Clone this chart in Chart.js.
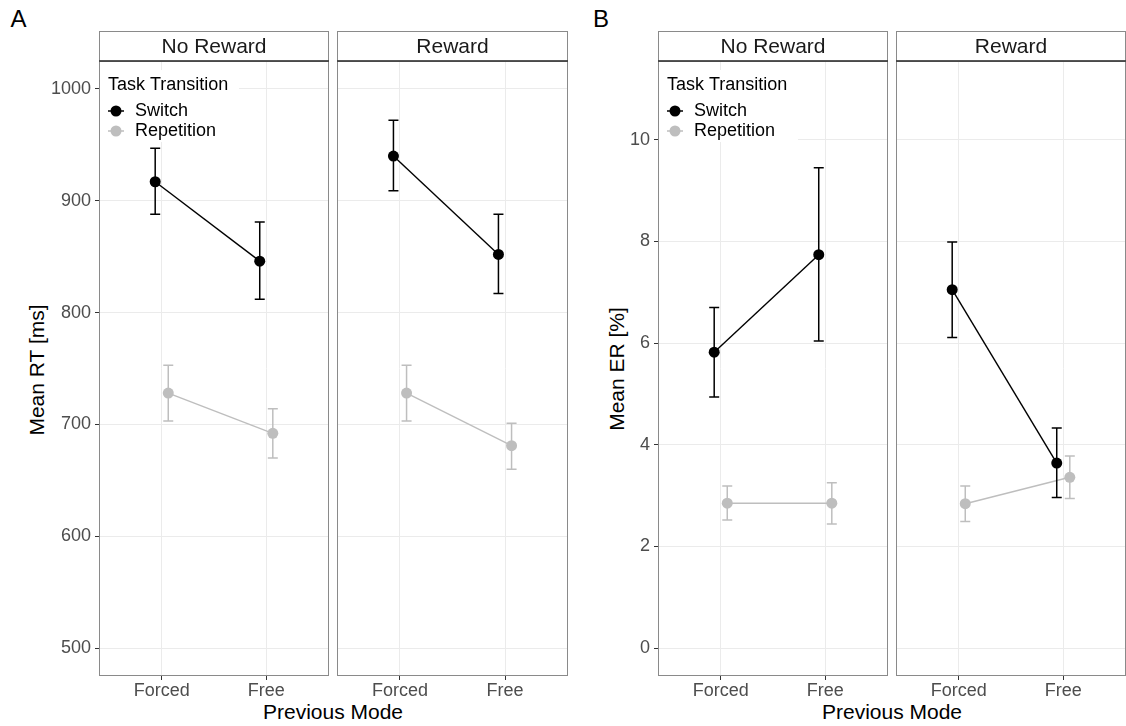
<!DOCTYPE html>
<html>
<head>
<meta charset="utf-8">
<script src="https://cdn.jsdelivr.net/npm/chart.js@4.4.1/dist/chart.umd.min.js"></script>
<style>
    html, body { margin: 0; padding: 0; background: #fff; }
    #page {
        position: relative;
        width: 1126px;
        height: 726px;
        overflow: hidden;
        font-family: "Liberation Sans", Arial, sans-serif;
    }
    #page canvas { position: absolute; }
    .lbl {
        position: absolute;
        white-space: nowrap;
        line-height: 1;
        color: #000;
        transform: translate(-50%, -50%);
    }
    .ytitle { transform: translate(-50%, -50%) rotate(-90deg); }
</style>
</head>
<body>
<div id="page">
    <div class="lbl" style="left:18.5px; top:18.5px; font-size:24px;">A</div>
    <div class="lbl" style="left:601px; top:18.5px; font-size:24px;">B</div>
    <div class="lbl ytitle" style="left:36px; top:370px; font-size:21px;">Mean RT [ms]</div>
    <div class="lbl ytitle" style="left:616px; top:369px; font-size:21px;">Mean ER [%]</div>
    <div class="lbl" style="left:333px; top:711px; font-size:21px;">Previous Mode</div>
    <div class="lbl" style="left:892px; top:711px; font-size:21px;">Previous Mode</div>

    <canvas id="rtNoReward"></canvas>
    <canvas id="rtReward"></canvas>
    <canvas id="erNoReward"></canvas>
    <canvas id="erReward"></canvas>
</div>

<script>
// ---- data ----
const modes = ['Forced', 'Free'];
const transitions = ['Switch', 'Repetition'];
const facets = ['No Reward', 'Reward'];

const rtTicks = [500, 600, 700, 800, 900, 1000];
const erTicks = [0, 2, 4, 6, 8, 10];

// Mean RT [ms], [lower, upper] error bars per mode
const rtSwitchNoReward = [917, 846];
const rtSwitchNoRewardCI = [[888, 947], [812, 881]];
const rtRepNoReward = [728, 692];
const rtRepNoRewardCI = [[703, 753], [670, 714]];
const rtSwitchReward = [940, 852];
const rtSwitchRewardCI = [[909, 972], [817, 888]];
const rtRepReward = [728, 681];
const rtRepRewardCI = [[703, 753], [660, 701]];

// Mean ER [%]
const erSwitchNoReward = [5.82, 7.74];
const erSwitchNoRewardCI = [[4.94, 6.70], [6.04, 9.45]];
const erRepNoReward = [2.85, 2.85];
const erRepNoRewardCI = [[2.52, 3.19], [2.44, 3.25]];
const erSwitchReward = [7.05, 3.64];
const erSwitchRewardCI = [[6.11, 7.99], [2.96, 4.33]];
const erRepReward = [2.84, 3.36];
const erRepRewardCI = [[2.49, 3.19], [2.94, 3.78]];

// ---- look ----
const FONT = '"Liberation Sans", Arial, sans-serif';
const colors = { Switch: '#000000', Repetition: '#bebebe' };
const dodge = { Switch: -0.0625, Repetition: 0.0625 };
const CANVAS_TOP = 31;
const CANVAS_H = 672;
const STRIP_H = 30;
const X_AXIS_H = 27;

Chart.defaults.font.family = FONT;
Chart.defaults.animation = false;

// Error bars drawn through the chart's own scales
const errorBars = {
    id: 'errorBars',
    afterDatasetsDraw(chart) {
        const ctx = chart.ctx;
        const xs = chart.scales.x;
        const ys = chart.scales.y;
        chart.data.datasets.forEach(ds => {
            ctx.save();
            ctx.strokeStyle = ds.borderColor;
            ctx.lineWidth = 1.5;
            ds.data.forEach((p, i) => {
                const x = xs.getPixelForValue(p.x);
                const y0 = ys.getPixelForValue(ds.ci[i][0]);
                const y1 = ys.getPixelForValue(ds.ci[i][1]);
                ctx.beginPath();
                ctx.moveTo(x, y0); ctx.lineTo(x, y1);
                ctx.moveTo(x - 5, y0); ctx.lineTo(x + 5, y0);
                ctx.moveTo(x - 5, y1); ctx.lineTo(x + 5, y1);
                ctx.stroke();
            });
            ctx.restore();
        });
    }
};

// Facet strip, panel border and (optionally) the legend
const panelDecor = {
    id: 'panelDecor',
    afterDraw(chart, args, opts) {
        const ctx = chart.ctx;
        const a = chart.chartArea;
        const w = a.right - a.left;
        ctx.save();
        ctx.strokeStyle = '#8a8a8a';
        ctx.lineWidth = 1;
        ctx.strokeRect(a.left + 0.5, 0.5, w - 1, a.top);
        ctx.strokeRect(a.left + 0.5, a.top, w - 1, a.bottom - a.top - 0.5);

        ctx.strokeStyle = '#333';
        ctx.lineWidth = 1.5;
        ctx.beginPath();
        ctx.moveTo(a.left, a.top);
        ctx.lineTo(a.right, a.top);
        ctx.stroke();

        ctx.fillStyle = '#1a1a1a';
        ctx.font = '21px ' + FONT;
        ctx.textAlign = 'center';
        ctx.textBaseline = 'middle';
        ctx.fillText(opts.label, a.left + w / 2, a.top / 2 + 1);

        if (opts.legend) {
            const L = a.left;
            const T = a.top;
            ctx.fillStyle = '#fff';
            ctx.fillRect(L + 1, T + 9, 139, 72);
            ctx.fillStyle = '#000';
            ctx.font = '18px ' + FONT;
            ctx.textAlign = 'left';
            ctx.fillText('Task Transition', L + 9, T + 24);
            chart.data.datasets.forEach((ds, i) => {
                const cy = T + 50 + i * 20;
                ctx.strokeStyle = ds.borderColor;
                ctx.lineWidth = 1.5;
                ctx.beginPath();
                ctx.moveTo(L + 9, cy);
                ctx.lineTo(L + 25, cy);
                ctx.stroke();
                ctx.fillStyle = ds.borderColor;
                ctx.beginPath();
                ctx.arc(L + 17, cy, 5.5, 0, Math.PI * 2);
                ctx.fill();
                ctx.fillStyle = '#000';
                ctx.fillText(ds.label, L + 36, cy);
            });
        }
        ctx.restore();
    }
};

function makeSeries(name, values, ci) {
    return {
        label: name,
        data: values.map((v, i) => ({ x: i + 1 + dodge[name], y: v })),
        ci: ci,
        borderColor: colors[name],
        backgroundColor: colors[name],
        pointBackgroundColor: colors[name],
        pointBorderWidth: 0,
        pointRadius: 5.5,
        borderWidth: 1.4,
        tension: 0
    };
}

function makePanel(cfg) {
    const canvas = document.getElementById(cfg.id);
    canvas.width = cfg.width;
    canvas.height = CANVAS_H;
    canvas.style.left = cfg.left + 'px';
    canvas.style.top = CANVAS_TOP + 'px';

    const showY = cfg.yAxisWidth > 0;

    return new Chart(canvas.getContext('2d'), {
        type: 'line',
        data: { datasets: cfg.series },
        options: {
            responsive: false,
            layout: { autoPadding: false, padding: { top: STRIP_H, left: 0, right: 0, bottom: 0 } },
            plugins: {
                legend: { display: false },
                tooltip: { enabled: false },
                panelDecor: { label: cfg.label, legend: cfg.legend }
            },
            scales: {
                x: {
                    type: 'linear',
                    min: 0.4,
                    max: 2.6,
                    bounds: 'data',
                    afterBuildTicks: s => { s.ticks = modes.map((m, i) => ({ value: i + 1 })); },
                    afterFit: s => { s.height = X_AXIS_H; },
                    ticks: {
                        callback: v => modes[Math.round(v) - 1],
                        font: { size: 18 },
                        color: '#4d4d4d',
                        padding: 0,
                        maxRotation: 0,
                        autoSkip: false
                    },
                    grid: { color: '#ebebeb', lineWidth: 1, tickLength: 4, tickColor: '#333', drawTicks: true },
                    border: { display: false }
                },
                y: {
                    type: 'linear',
                    min: cfg.yMin,
                    max: cfg.yMax,
                    bounds: 'data',
                    afterBuildTicks: s => { s.ticks = cfg.yTicks.map(v => ({ value: v })); },
                    afterFit: s => { s.width = cfg.yAxisWidth; },
                    ticks: {
                        display: showY,
                        callback: v => String(v),
                        font: { size: 18 },
                        color: '#4d4d4d',
                        padding: 4
                    },
                    grid: { color: '#ebebeb', lineWidth: 1, tickLength: 4, tickColor: '#333', drawTicks: showY },
                    border: { display: false }
                }
            }
        },
        plugins: [errorBars, panelDecor]
    });
}

// ---- panel A: reaction times ----
makePanel({
    id: 'rtNoReward', left: 45, width: 284, yAxisWidth: 54,
    label: facets[0], legend: true, yMin: 475, yMax: 1025, yTicks: rtTicks,
    series: [
        makeSeries(transitions[0], rtSwitchNoReward, rtSwitchNoRewardCI),
        makeSeries(transitions[1], rtRepNoReward, rtRepNoRewardCI)
    ]
});
makePanel({
    id: 'rtReward', left: 337, width: 231, yAxisWidth: 0,
    label: facets[1], legend: false, yMin: 475, yMax: 1025, yTicks: rtTicks,
    series: [
        makeSeries(transitions[0], rtSwitchReward, rtSwitchRewardCI),
        makeSeries(transitions[1], rtRepReward, rtRepRewardCI)
    ]
});

// ---- panel B: error rates ----
makePanel({
    id: 'erNoReward', left: 600, width: 288, yAxisWidth: 58,
    label: facets[0], legend: true, yMin: -0.55, yMax: 11.55, yTicks: erTicks,
    series: [
        makeSeries(transitions[0], erSwitchNoReward, erSwitchNoRewardCI),
        makeSeries(transitions[1], erRepNoReward, erRepNoRewardCI)
    ]
});
makePanel({
    id: 'erReward', left: 896, width: 230, yAxisWidth: 0,
    label: facets[1], legend: false, yMin: -0.55, yMax: 11.55, yTicks: erTicks,
    series: [
        makeSeries(transitions[0], erSwitchReward, erSwitchRewardCI),
        makeSeries(transitions[1], erRepReward, erRepRewardCI)
    ]
});
</script>
</body>
</html>
